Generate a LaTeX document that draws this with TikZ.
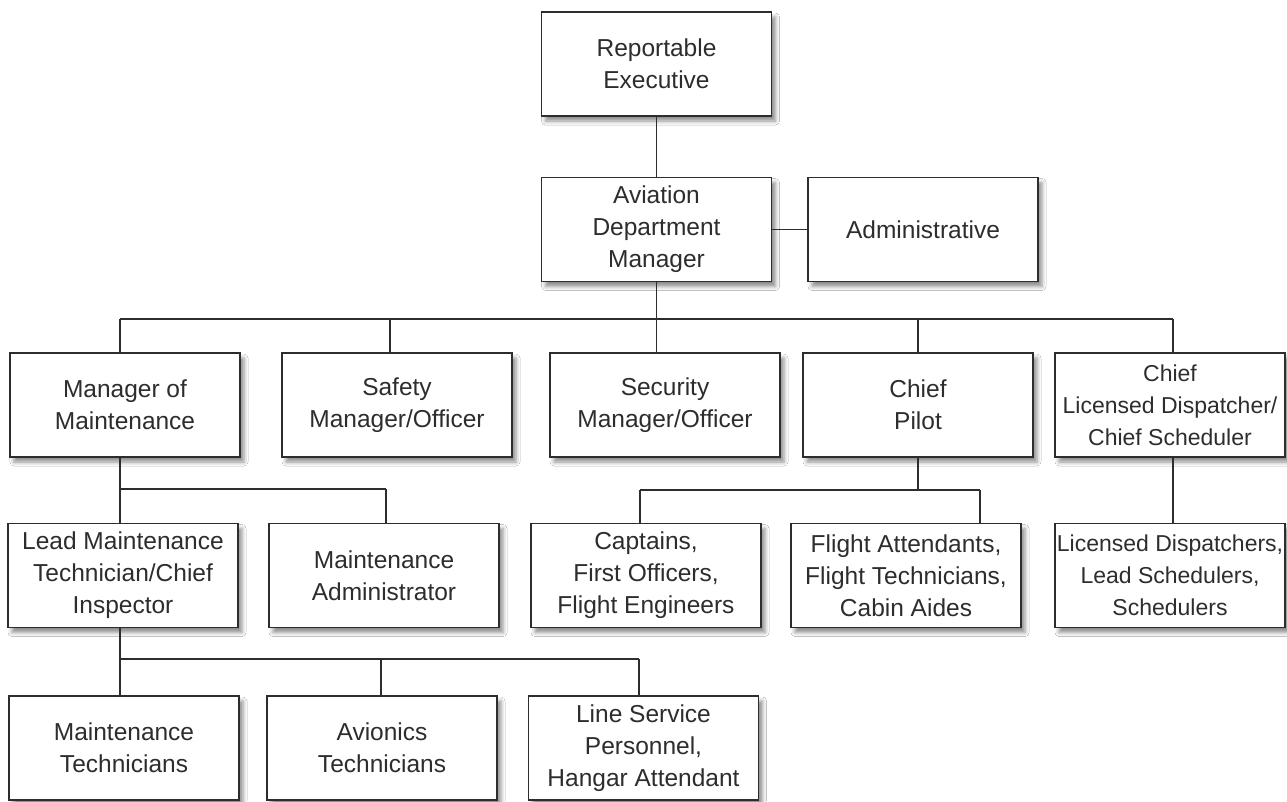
\documentclass[tikz,border=0pt]{standalone}
\usepackage{fontspec}
\setmainfont{Liberation Sans}
\usepackage{tikz}
\definecolor{ln}{RGB}{45, 45, 45}
\usetikzlibrary{shadows.blur}

\begin{document}
\begin{tikzpicture}[
  box/.style={rectangle, draw=ln, fill=white, line width=1.3pt, minimum width=230pt, minimum height=104pt, inner sep=0pt, align=center, text=ln, font=\fontsize{24.5}{32}\selectfont, blur shadow={shadow xshift=4pt, shadow yshift=-5pt, shadow blur radius=4pt, shadow opacity=45}},
  narrow/.style={font=\fontsize{23}{32}\selectfont},
  wire/.style={line width=1.3pt, color=ln}]
\fill [white] (0pt, 0pt) rectangle (1287pt, -801pt);
\useasboundingbox (0pt, 0pt) rectangle (1287pt, -801pt);
\node (re) [box] at (656.5pt, -64.0pt) {Reportable\\Executive};
\node (adm) [box] at (656.5pt, -229.5pt) {Aviation\\Department\\Manager};
\node (admin) [box] at (923.0pt, -229.5pt) {Administrative};
\node (mom) [box] at (125.0pt, -405.0pt) {Manager of\\Maintenance};
\node (safety) [box] at (397.0pt, -405.0pt) {Safety\\Manager/Officer};
\node (security) [box] at (665.0pt, -405.0pt) {Security\\Manager/Officer};
\node (cp) [box] at (918.0pt, -405.0pt) {Chief\\Pilot};
\node (cl) [box, narrow] at (1170.0pt, -405.0pt) {Chief\\Licensed Dispatcher/\\Chief Scheduler};
\node (lmt) [box] at (123.0pt, -575.5pt) {Lead Maintenance\\Technician/Chief\\Inspector};
\node (madmin) [box] at (384.0pt, -575.5pt) {Maintenance\\Administrator};
\node (capt) [box] at (646.0pt, -575.5pt) {Captains,\\First Officers,\\Flight Engineers};
\node (fa) [box] at (906.0pt, -575.5pt) {Flight Attendants,\\Flight Technicians,\\Cabin Aides};
\node (ld) [box, narrow] at (1170.0pt, -575.5pt) {Licensed Dispatchers,\\Lead Schedulers,\\Schedulers};
\node (mt) [box] at (124.0pt, -748.0pt) {Maintenance\\Technicians};
\node (av) [box] at (382.0pt, -748.0pt) {Avionics\\Technicians};
\node (ls) [box] at (643.5pt, -748.0pt) {Line Service\\Personnel,\\Hangar Attendant};
\coordinate (b1) at (120.0pt, -319.0pt);
\coordinate (b2) at (390.0pt, -319.0pt);
\coordinate (b3) at (656.5pt, -319.0pt);
\coordinate (b4) at (918.0pt, -319.0pt);
\coordinate (b5) at (1173.0pt, -319.0pt);
\coordinate (m1) at (120.0pt, -489.0pt);
\coordinate (m2) at (386.0pt, -489.0pt);
\coordinate (c1) at (640.0pt, -490.0pt);
\coordinate (c2) at (980.0pt, -490.0pt);
\coordinate (l1) at (120.0pt, -659.0pt);
\coordinate (l2) at (381.0pt, -659.0pt);
\coordinate (l3) at (639.0pt, -659.0pt);
\draw [wire] (re) to (adm);
\draw [wire] (adm) to (admin);
\draw [wire] (adm.south) to (b3);
\draw [wire] (b1) to (b5);
\draw [wire] (b1) to (b1 |- mom.north);
\draw [wire] (b2) to (b2 |- safety.north);
\draw [wire] (b3) to (b3 |- security.north);
\draw [wire] (b4) to (b4 |- cp.north);
\draw [wire] (b5) to (b5 |- cl.north);
\draw [wire] (m1 |- mom.south) to (m1);
\draw [wire] (m1) to (m2);
\draw [wire] (m1) to (m1 |- lmt.north);
\draw [wire] (m2) to (m2 |- madmin.north);
\draw [wire] (cp.south) to (cp.south |- c1);
\draw [wire] (c1) to (c2);
\draw [wire] (c1) to (c1 |- capt.north);
\draw [wire] (c2) to (c2 |- fa.north);
\draw [wire] (b5 |- cl.south) to (b5 |- ld.north);
\draw [wire] (l1 |- lmt.south) to (l1);
\draw [wire] (l1) to (l3);
\draw [wire] (l1) to (l1 |- mt.north);
\draw [wire] (l2) to (l2 |- av.north);
\draw [wire] (l3) to (l3 |- ls.north);
\end{tikzpicture}
\end{document}
